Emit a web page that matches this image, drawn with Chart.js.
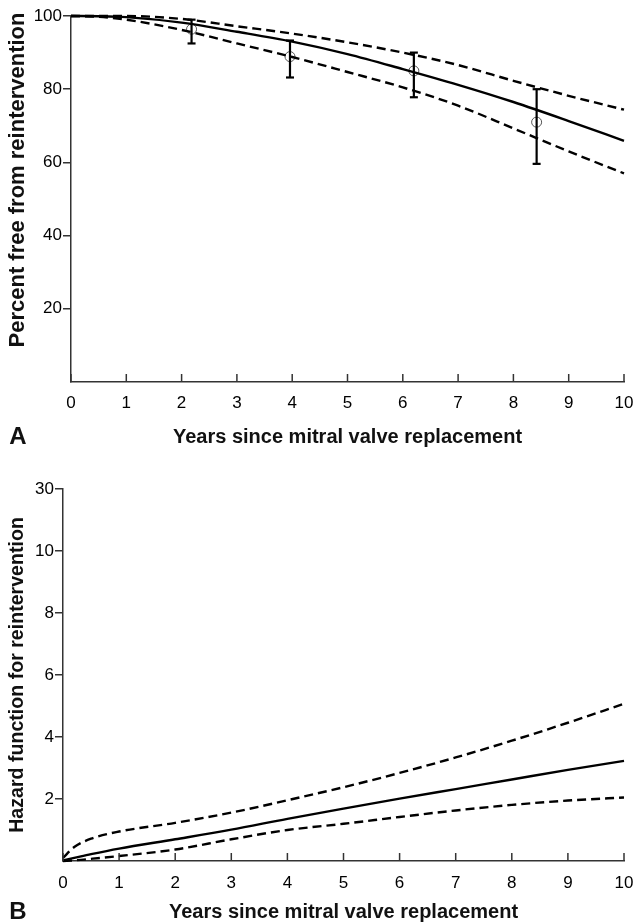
<!DOCTYPE html>
<html>
<head>
<meta charset="utf-8">
<script src="https://cdn.jsdelivr.net/npm/chart.js@4.4.1/dist/chart.umd.min.js"></script>
<style>
  html, body { margin: 0; padding: 0; background: #fff; }
  #wrapA { position: absolute; left: 0; top: 0; width: 634px; height: 462px; }
  #wrapB { position: absolute; left: 0; top: 462px; width: 634px; height: 462px; }
</style>
</head>
<body>
<div id="wrapA"><canvas id="chartA" width="634" height="462"></canvas></div>
<div id="wrapB"><canvas id="chartB" width="634" height="462"></canvas></div>
<script>
// ---------- Panel A data ----------
const xYearsA   = [0, 0.5, 1, 2, 3, 4, 5, 6, 7, 8, 9, 10];
const freeEst   = [100, 99.95, 99.7, 98.2, 95.7, 93.0, 89.6, 85.5, 81.2, 76.5, 71.3, 65.9];
const freeUpper = [100, 100, 100, 99.2, 97.2, 95.2, 92.8, 90.0, 86.6, 82.3, 78.2, 74.4];
const freeLower = [100, 99.8, 99.0, 96.2, 92.5, 88.8, 84.7, 80.5, 75.5, 69.3, 63.0, 57.0];
const actX  = [2.18, 3.96, 6.2, 8.42];
const actY  = [96.4, 88.9, 85.0, 71.0];
const actLo = [92.5, 83.2, 77.8, 59.6];
const actHi = [99.0, 93.3, 90.0, 80.0];
const yTicksA = [20, 40, 60, 80, 100];
const yTitleA = "Percent free from reintervention";

// ---------- Panel B data ----------
const xYearsB  = [0, 0.2, 0.5, 1, 2, 3, 4, 5, 6, 7, 8, 9, 10];
const hazEst   = [0.02, 0.1, 0.22, 0.40, 0.70, 1.01, 1.36, 1.69, 2.01, 2.32, 2.63, 2.94, 3.23];
const hazUpper = [0.1, 0.45, 0.72, 0.95, 1.23, 1.56, 1.96, 2.38, 2.84, 3.34, 3.88, 4.46, 5.07];
const hazLower = [0, 0.02, 0.07, 0.16, 0.37, 0.70, 1.0, 1.2, 1.42, 1.63, 1.81, 1.95, 2.05];
const yTicksB      = [2, 4, 6, 8, 10, 12];
const yTickLabelsB = ["2", "4", "6", "8", "10", "30"];
const yTitleB = "Hazard function for reintervention";

// ---------- shared ----------
const xTicks = [0, 1, 2, 3, 4, 5, 6, 7, 8, 9, 10];
const xTitle = "Years since mitral valve replacement";
const FONT = "'Liberation Sans', Arial, Helvetica, sans-serif";
const AXIS_COLOR = '#333';

const toXY = (xs, ys) => xs.map((x, i) => ({ x: x, y: ys[i] }));

const inwardTicks = {
  id: 'inwardTicks',
  afterDraw(chart, args, opts) {
    const xs = chart.scales.x, ctx = chart.ctx, base = chart.chartArea.bottom;
    ctx.save();
    ctx.strokeStyle = opts.color; ctx.lineWidth = opts.width;
    xs.ticks.forEach((t, i) => {
      const px = xs.getPixelForTick(i);
      ctx.beginPath(); ctx.moveTo(px, base); ctx.lineTo(px, base - opts.length); ctx.stroke();
    });
    ctx.restore();
  }
};

const panelText = {
  id: 'panelText',
  afterDraw(chart, args, opts) {
    const ctx = chart.ctx;
    (opts.items || []).forEach(it => {
      ctx.save();
      ctx.font = it.font; ctx.fillStyle = '#111';
      ctx.textAlign = 'center'; ctx.textBaseline = 'middle';
      ctx.translate(it.x, it.y);
      if (it.rotate) ctx.rotate(it.rotate);
      ctx.fillText(it.text, 0, 0);
      ctx.restore();
    });
  }
};

function curve(xs, ys, dashed) {
  return {
    type: 'line', data: toXY(xs, ys), borderColor: '#000', borderWidth: 2.4,
    borderDash: dashed ? [9, 5] : [], pointRadius: 0, fill: false,
    cubicInterpolationMode: 'monotone', clip: 6
  };
}

function makeOptions(cfg) {
  return {
    responsive: false, animation: false,
    layout: { padding: { top: cfg.padTop, right: 10, left: 0, bottom: 0 } },
    plugins: {
      legend: { display: false }, tooltip: { enabled: false },
      inwardTicks: { color: AXIS_COLOR, width: 1.5, length: 8 },
      panelText: { items: cfg.texts }
    },
    scales: {
      x: {
        type: 'linear', min: 0, max: 10,
        afterBuildTicks: s => { s.ticks = xTicks.map(v => ({ value: v })); },
        afterFit: s => { s.height = cfg.xHeight; },
        grid: { display: false, drawTicks: true, tickLength: cfg.xTickPad },
        border: { display: true, color: AXIS_COLOR, width: 1.5 },
        ticks: { color: '#000', font: { family: FONT, size: 17 }, padding: 0, maxRotation: 0 },
        title: { display: true, text: xTitle, color: '#111',
                 font: { family: FONT, size: 20, weight: 'bold' },
                 padding: { top: 0, bottom: cfg.xTitlePad } }
      },
      y: {
        type: 'linear', min: 0, max: cfg.yMax,
        afterBuildTicks: s => { s.ticks = cfg.yTicks.map(v => ({ value: v })); },
        afterFit: s => { s.width = cfg.yWidth; },
        grid: { display: true, drawOnChartArea: false, drawTicks: true, tickLength: 8, color: AXIS_COLOR, lineWidth: 1.5 },
        border: { display: true, color: AXIS_COLOR, width: 1.5 },
        ticks: { color: '#000', font: { family: FONT, size: 17 }, padding: 1,
                 callback: cfg.yLabel }
      }
    }
  };
}

// ---------- Chart A ----------
const dsA = [
  curve(xYearsA, freeEst, false),
  curve(xYearsA, freeUpper, true),
  curve(xYearsA, freeLower, true)
];
actX.forEach((x, i) => {
  dsA.push({
    type: 'line', data: [{ x: x, y: actLo[i] }, { x: x, y: actHi[i] }],
    borderColor: '#000', borderWidth: 2.2, pointStyle: 'line', pointRadius: 4,
    pointBorderColor: '#000', pointBorderWidth: 2.2, fill: false
  });
});
dsA.push({
  type: 'scatter', data: toXY(actX, actY), pointStyle: 'circle', pointRadius: 5,
  pointBackgroundColor: 'rgba(0,0,0,0)', pointBorderColor: '#555', pointBorderWidth: 1, showLine: false
});

new Chart(document.getElementById('chartA'), {
  type: 'line',
  data: { datasets: dsA },
  options: makeOptions({
    padTop: 16, xHeight: 80, yWidth: 71, yMax: 100, yTicks: yTicksA,
    xTickPad: 11, xTitlePad: 13,
    yLabel: v => String(v),
    texts: [
      { text: yTitleA, x: 18, y: 180, rotate: -Math.PI / 2, font: "bold 22px " + FONT },
      { text: "A", x: 18, y: 437, font: "bold 24px " + FONT }
    ]
  }),
  plugins: [inwardTicks, panelText]
});

// ---------- Chart B ----------
const dsB = [
  curve(xYearsB, hazEst, false),
  curve(xYearsB, hazUpper, true),
  curve(xYearsB, hazLower, true)
];

new Chart(document.getElementById('chartB'), {
  type: 'line',
  data: { datasets: dsB },
  options: makeOptions({
    padTop: 27, xHeight: 63, yWidth: 63, yMax: 12, yTicks: yTicksB,
    xTickPad: 12, xTitlePad: 0,
    yLabel: v => yTickLabelsB[yTicksB.indexOf(v)],
    texts: [
      { text: yTitleB, x: 18, y: 213, rotate: -Math.PI / 2, font: "bold 19.6px " + FONT },
      { text: "B", x: 18, y: 450, font: "bold 24px " + FONT }
    ]
  }),
  plugins: [inwardTicks, panelText]
});
</script>
</body>
</html>
